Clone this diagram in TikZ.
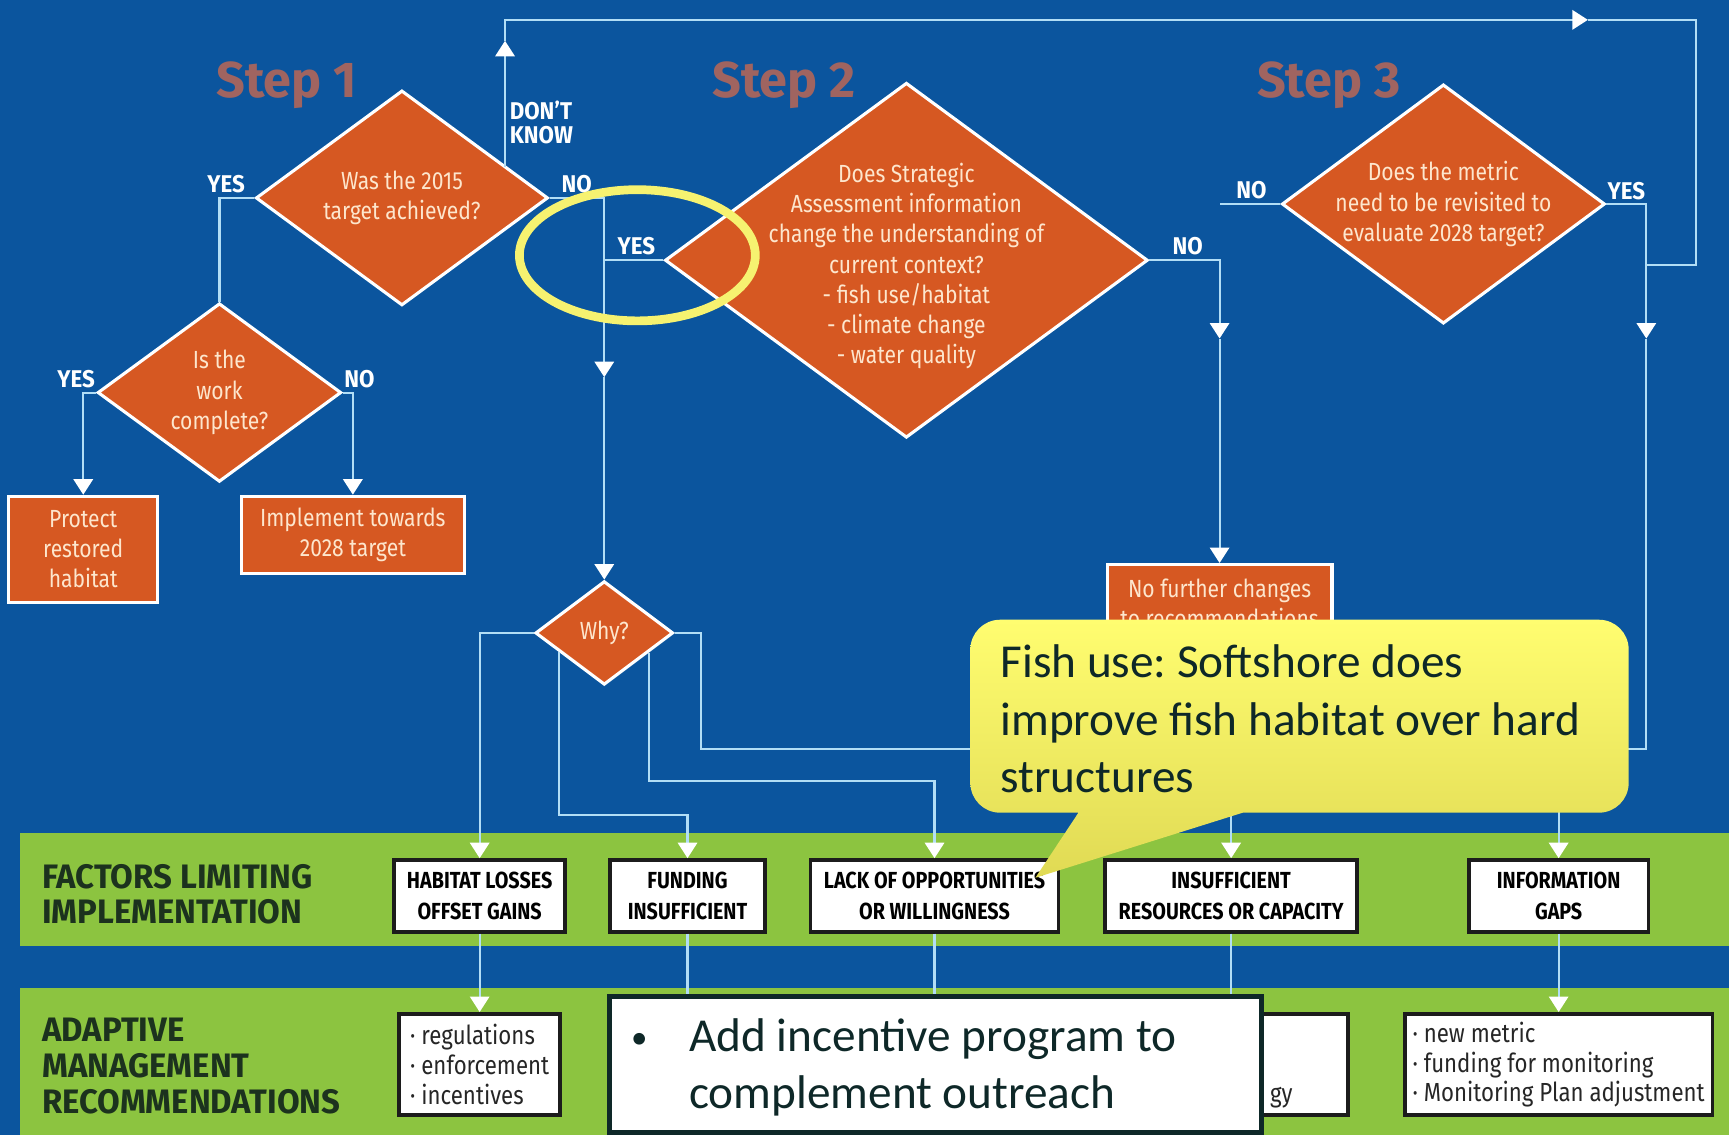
\documentclass[tikz,border=0pt]{standalone}
\usepackage{fontspec}
\setmainfont{Fira Sans}
\newfontfamily\condfont[FakeStretch=0.85]{Fira Sans}
\newfontfamily\tagfont[FakeStretch=0.92]{Fira Sans}
\newfontfamily\bandfont[FakeStretch=0.97]{Fira Sans}
\newfontfamily\notefont{Carlito}
\usepackage{tikz}
\usetikzlibrary{arrows.meta,shapes.geometric,positioning}

\definecolor{bgblue}{RGB}{11,85,158}
\definecolor{fcorange}{RGB}{214,88,34}
\definecolor{bandgreen}{RGB}{140,196,64}
\definecolor{flowline}{RGB}{178,222,246}
\definecolor{cream}{RGB}{253,230,205}
\definecolor{steptext}{RGB}{160,100,96}
\definecolor{darkink}{RGB}{14,40,40}
\definecolor{bandink}{RGB}{28,50,30}
\definecolor{boxline}{RGB}{28,28,28}
\definecolor{noteyellow}{RGB}{255,253,112}
\definecolor{noteshade}{RGB}{224,218,84}
\definecolor{ringyellow}{RGB}{246,242,112}

\begin{document}
\begin{tikzpicture}[x=0.02cm,y=-0.02cm,
    >={Triangle[width=10pt,length=8pt,color=white,fill=white]},
    flow/.style={draw=flowline,line width=1.1pt},
    decision/.style={diamond,draw=white,line width=1.6pt,fill=fcorange,inner sep=0pt},
    qtext/.style={text=cream,align=center,inner sep=0pt,font=\condfont\fontsize{12.8}{15.6}\selectfont},
    outcome/.style={rectangle,draw=white,line width=1.6pt,fill=fcorange,text=cream,align=center,
                    inner sep=0pt,font=\condfont\fontsize{12.8}{15.6}\selectfont},
    answer/.style={text=white,inner sep=0pt,font=\tagfont\bfseries\fontsize{12.5}{12.2}\selectfont},
    steplabel/.style={text=steptext,inner sep=0pt,font=\bfseries\fontsize{26}{30}\selectfont},
    factor/.style={rectangle,draw=boxline,line width=2pt,fill=white,align=center,inner sep=0pt,
                   minimum height=1.3cm,font=\condfont\bfseries\fontsize{12}{16.5}\selectfont},
    remedy/.style={rectangle,draw=boxline,line width=2pt,fill=white,align=left,inner sep=0pt,
                   minimum height=1.84cm,text=black!85,font=\condfont\fontsize{13.5}{15.4}\selectfont},
    bandlabel/.style={anchor=west,align=left,inner sep=0pt,text=bandink,
                      font=\bandfont\bfseries\fontsize{17.5}{18.5}\selectfont},
    notetext/.style={anchor=west,align=left,inner sep=0pt,text=darkink,
                     font=\notefont\fontsize{24.4}{29.6}\selectfont\frenchspacing}]

  \useasboundingbox (0,0) rectangle (1568,1029);
  \fill[bgblue] (0,0) rectangle (1568,1029);
  \fill[bandgreen] (18,755) rectangle (1568,858);
  \fill[bandgreen] (18,896) rectangle (1568,1029);

  \node[steplabel] (step1) at (260,77) {Step 1};
  \node[steplabel] (step2) at (711,77) {Step 2};
  \node[steplabel] (step3) at (1205,77) {Step 3};

  % questions
  \node[decision,minimum width=5.3cm,minimum height=3.9cm] (achieved) at (364.5,179.5)
       [label={[qtext]center:{Was the 2015\\target achieved?}}] {};
  \node[decision,minimum width=4.42cm,minimum height=3.24cm] (work) at (199,356)
       [label={[qtext]center:{Is the\\work\\complete?}}] {};
  \node[decision,minimum width=8.76cm,minimum height=6.44cm] (context) at (822,236)
       [label={[qtext,yshift=-3pt]center:{Does Strategic\\Assessment information\\change the understanding of\\current context?\\- fish use/habitat\\- climate change\\- water quality}}] {};
  \node[decision,minimum width=5.86cm,minimum height=4.34cm] (metric) at (1309,185)
       [label={[qtext]center:{Does the metric\\need to be revisited to\\evaluate 2028 target?}}] {};
  \node[decision,minimum width=2.5cm,minimum height=1.88cm] (why) at (548,574)
       [label={[qtext]center:Why?}] {};

  \node[outcome,minimum width=2.7cm,minimum height=1.92cm] (protect) at (75.5,498) {Protect\\restored\\habitat};
  \node[outcome,minimum width=4.04cm,minimum height=1.4cm] (implement) at (320,485) {Implement towards\\2028 target};
  \node[outcome,minimum width=4.08cm,minimum height=1.4cm] (nofurther) at (1106,547) {No further changes\\to recommendations};

  % limiting factors
  \node[factor,minimum width=3.1cm] (habitat) at (435,812.5) {HABITAT LOSSES\\OFFSET GAINS};
  \node[factor,minimum width=2.82cm] (funding) at (623.5,812.5) {FUNDING\\INSUFFICIENT};
  \node[factor,minimum width=4.5cm] (lack) at (847.5,812.5) {LACK OF OPPORTUNITIES\\OR WILLINGNESS};
  \node[factor,minimum width=4.58cm] (insuff) at (1116.5,812.5) {INSUFFICIENT\\RESOURCES OR CAPACITY};
  \node[factor,minimum width=3.26cm] (info) at (1413.5,812.5) {INFORMATION\\GAPS};

  % recommendations
  \node[remedy,minimum width=2.92cm] (rechab) at (435,965.5) {· regulations\\· enforcement\\· incentives};
  \node[remedy,minimum width=4.24cm] (recinsuff) at (1116.5,965.5) {};
  \node[remedy,minimum width=5.58cm] (recinfo) at (1413.5,965.5) {· new metric\\· funding for monitoring\\· Monitoring Plan adjustment};
  \node[remedy,anchor=west,minimum height=0pt,draw=none,fill=none] (recinsufftxt) at (1150,995) {gy};

  \node[bandlabel] (factorband) at (38,811) {FACTORS LIMITING\\IMPLEMENTATION};
  \node[bandlabel] (adaptband) at (38,966.5) {ADAPTIVE\\MANAGEMENT\\RECOMMENDATIONS};

  % answers
  \node[answer] (a1yes) at (205,167) {YES};
  \node[answer] (a1no) at (523,167) {NO};
  \node[answer,anchor=west,align=left] (a1dk) at (462,111) {DON’T\\KNOW};
  \node[answer] (a2yes) at (69,344) {YES};
  \node[answer] (a2no) at (326,344) {NO};
  \node[answer] (a3yes) at (577,223) {YES};
  \node[answer] (a3no) at (1077,223) {NO};
  \node[answer] (a4no) at (1135,172) {NO};
  \node[answer] (a4yes) at (1475,173) {YES};

  \coordinate (dkfoot) at (458,151);
  \coordinate (dkarrow) at (458,37);
  \coordinate (toparrow) at (1440,18);
  \coordinate (dkjoin) at (1493,240);
  \coordinate (noarrow) at (548,342);
  \coordinate (ctxarrow) at (1106,307);
  \coordinate (yesarrow) at (1493,307);
  \coordinate (fundingrec) at (623.5,930);
  \coordinate (lackrec) at (847.5,930);

  \draw[flow] (achieved.west) -| (work.north);
  \draw[flow,->] (work.west) -| (protect.north);
  \draw[flow,->] (work.east) -| (implement.north);
  \draw[flow,->] (dkfoot) -- (dkarrow);
  \draw[flow,->] (dkarrow) |- (toparrow);
  \draw[flow] (toparrow) -- ++(98,0) |- (dkjoin);
  \draw[flow,->] (achieved.east) -| (noarrow);
  \draw[flow,->] (noarrow) -- (why.north);
  \draw[flow] (context.west) -- (context.west -| noarrow);
  \draw[flow,->] (context.east) -| (ctxarrow);
  \draw[flow,->] (ctxarrow) -- (nofurther.north);
  \draw[flow] (metric.west) -- (metric.west -| ctxarrow);
  \draw[flow,->] (metric.east) -| (yesarrow);
  \draw[flow,->] (yesarrow) -- ++(0,372) -| (info.north);

  \draw[flow,->] (why.west) -| (habitat.north);
  \draw[flow,->] (why.203) -- ++(0,148) -| (funding.north);
  \draw[flow,->] (why.336) -- ++(0,116) -| (lack.north);
  \draw[flow,->] (why.east) -- ++(24,0) -- ++(0,105) -| (insuff.north);

  \path[flow] (habitat.south) edge[->] (rechab.north)
              (funding.south) edge[->] (fundingrec)
              (lack.south)    edge[->] (lackrec)
              (insuff.south)  edge[->] (recinsuff.north)
              (info.south)    edge[->] (recinfo.north);

  \draw[ringyellow,line width=4.5pt] (578,231.5) ellipse [x radius=2.14cm,y radius=1.19cm];

  % speech bubble
  \shade[top color=noteyellow,bottom color=noteshade]
    (939,796) -- (978,737) [rounded corners=0.54cm] -- (880,737) -- (880,562)
    -- (1477,562) -- (1477,737) [sharp corners] -- (1127,737) -- cycle;
  \node[notetext] (note) at (907,652) {Fish use: Softshore does\\improve fish habitat over hard\\structures};

  \node[rectangle,draw=darkink,line width=2.6pt,fill=white,minimum width=11.82cm,minimum height=2.46cm]
       (outreach) at (848.5,965.5) {};
  \node[notetext] (outreachtxt) at (572,968)
       {\makebox[30pt][l]{\raisebox{1.5pt}{\fontsize{17}{17}\selectfont\textbullet}}Add incentive program to\\\hspace*{30pt}complement outreach};
\end{tikzpicture}
\end{document}
